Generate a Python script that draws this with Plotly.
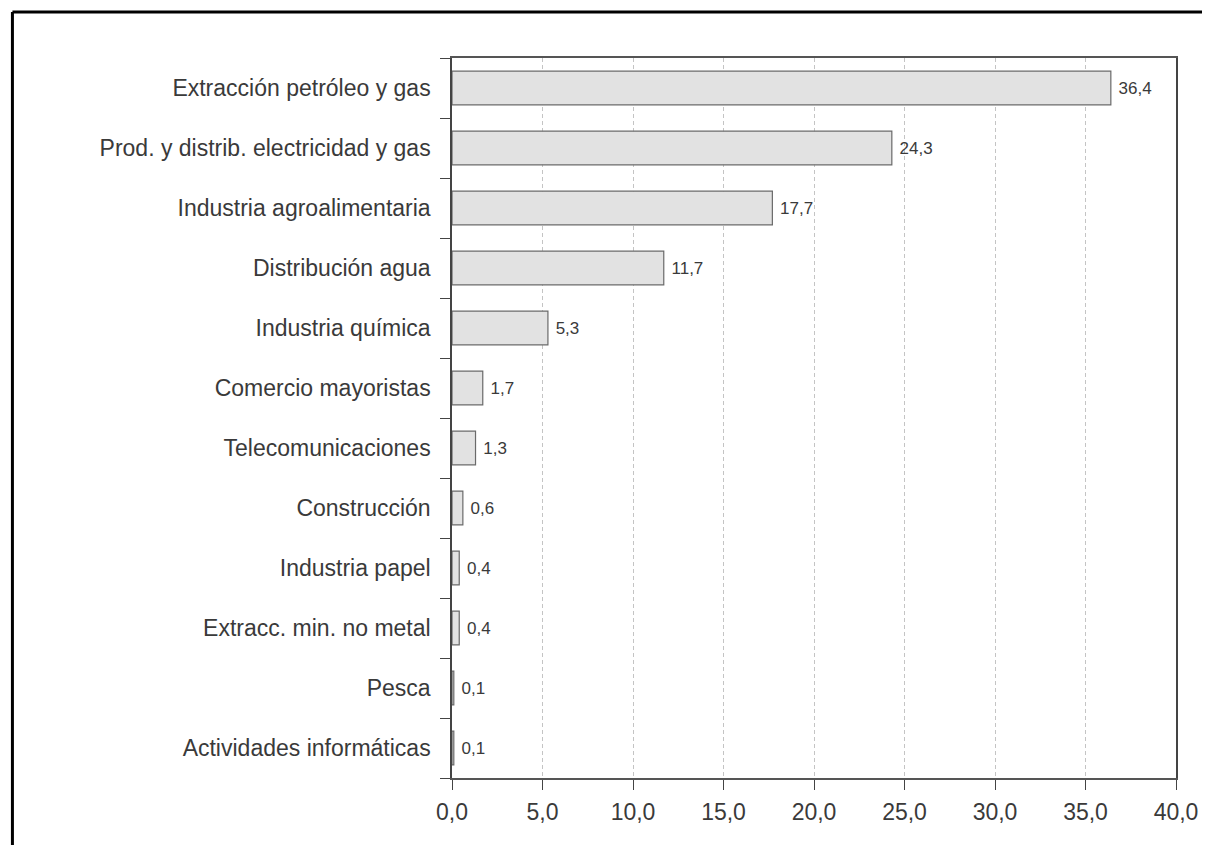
import plotly.graph_objects as go

categories = [
    "Extracción petróleo y gas",
    "Prod. y distrib. electricidad y gas",
    "Industria agroalimentaria",
    "Distribución agua",
    "Industria química",
    "Comercio mayoristas",
    "Telecomunicaciones",
    "Construcción",
    "Industria papel",
    "Extracc. min. no metal",
    "Pesca",
    "Actividades informáticas",
]
values = [36.4, 24.3, 17.7, 11.7, 5.3, 1.7, 1.3, 0.6, 0.4, 0.4, 0.1, 0.1]
x_ticks = [0, 5, 10, 15, 20, 25, 30, 35, 40]

FONT = "Liberation Sans, Arial, Helvetica, sans-serif"
TXT = "#3a3a3a"

fig = go.Figure(
    go.Bar(
        y=categories,
        x=values,
        orientation="h",
        width=0.56,
        marker=dict(color="#e2e2e2", line=dict(color="#6a6a6a", width=1.2)),
        text=values,
        texttemplate=" %{x:.1f}",
        textposition="outside",
        cliponaxis=False,
        textfont=dict(family=FONT, size=17, color=TXT),
    )
)

# page body has an 8px margin, so the figure is sized to fit inside it
W, H = 1202, 837
L, R, T, B = 444, 30, 50, 67
pw, ph = W - L - R, H - T - B
fx, fy = 2, 4  # frame position in figure pixels

fig.update_layout(
    width=W,
    height=H,
    margin=dict(l=L, r=R, t=T, b=B),
    paper_bgcolor="white",
    plot_bgcolor="white",
    separators=",.",
    showlegend=False,
    font=dict(family=FONT, color=TXT),
    shapes=[
        dict(type="line", xref="paper", yref="paper",
             x0=(fx - L) / pw, x1=(W + 10 - L) / pw,
             y0=(H - B - fy) / ph, y1=(H - B - fy) / ph,
             line=dict(color="black", width=3)),
        dict(type="line", xref="paper", yref="paper",
             x0=(fx - L) / pw, x1=(fx - L) / pw,
             y0=(H - B - fy) / ph, y1=-(B + 10) / ph,
             line=dict(color="black", width=3)),
    ],
)

fig.update_xaxes(
    range=[0, 40],
    tickvals=x_ticks,
    tickformat=".1f",
    ticks="outside",
    ticklen=10,
    tickcolor="#444",
    tickfont=dict(family=FONT, size=23, color=TXT),
    ticklabelstandoff=3,
    showgrid=True,
    gridcolor="#c4c4c4",
    griddash="4px,3px",
    gridwidth=1,
    showline=True,
    linecolor="#555",
    linewidth=1.5,
    mirror=True,
    zeroline=False,
)
fig.update_yaxes(
    categoryorder="array",
    categoryarray=categories[::-1],
    tickson="boundaries",
    ticks="outside",
    ticklen=10,
    tickcolor="#444",
    tickfont=dict(family=FONT, size=23, color=TXT),
    ticklabelstandoff=15,
    showline=True,
    linecolor="#444",
    linewidth=1.5,
    mirror=True,
    showgrid=False,
    range=[-0.5, 11.5],
)

fig.write_html("out.html")
